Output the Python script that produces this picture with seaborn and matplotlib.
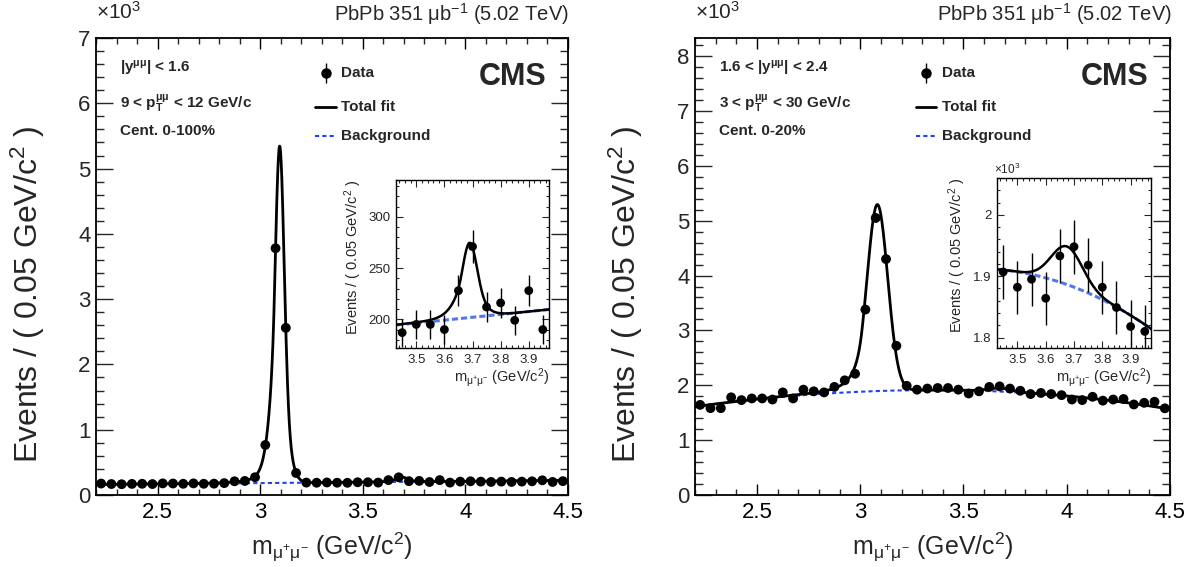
import numpy as np
import pandas as pd
import matplotlib
matplotlib.use("Agg")
import matplotlib.pyplot as plt
import seaborn as sns
from matplotlib.ticker import MultipleLocator, FuncFormatter

# ---------------- data ----------------
MASS_BINS = [2.225, 2.275, 2.325, 2.375, 2.425, 2.475, 2.525, 2.575, 2.625, 2.675,
             2.725, 2.775, 2.825, 2.875, 2.925, 2.975, 3.025, 3.075, 3.125, 3.175,
             3.225, 3.275, 3.325, 3.375, 3.425, 3.475, 3.525, 3.575, 3.625, 3.675,
             3.725, 3.775, 3.825, 3.875, 3.925, 3.975, 4.025, 4.075, 4.125, 4.175,
             4.225, 4.275, 4.325, 4.375, 4.425, 4.475]

LEFT_COUNTS = [175, 168, 165, 170, 172, 168, 178, 176, 172, 178,
               172, 174, 182, 210, 215, 272, 766, 3780, 2560, 337,
               190, 188, 192, 188, 187, 195, 195, 190, 228, 271,
               212, 216, 199, 228, 190, 205, 210, 205, 200, 205,
               200, 205, 210, 225, 200, 212]

RIGHT_COUNTS = [1643, 1583, 1583, 1780, 1730, 1760, 1760, 1740, 1870, 1760,
                1920, 1890, 1870, 1970, 2090, 2210, 3380, 5050, 4300, 2720,
                1990, 1920, 1940, 1950, 1950, 1920, 1850, 1890, 1970, 1980,
                1940, 1900, 1840, 1860, 1840, 1820, 1740, 1730, 1790, 1720,
                1740, 1750, 1650, 1680, 1700, 1580]

INSET_BINS = [3.45, 3.50, 3.55, 3.60, 3.65, 3.70, 3.75, 3.80, 3.85, 3.90, 3.95]
LEFT_INSET_COUNTS = [187, 195, 195, 190, 228, 271, 212, 216, 199, 228, 190]
RIGHT_INSET_COUNTS = [1907, 1882, 1895, 1864, 1933, 1948, 1918, 1882, 1849, 1818, 1810]

# fit model parameters
LEFT_BKG_POLY = [160.0, 28.0]            # a0 + a1*(m - 2.2)
LEFT_JPSI = dict(mean=3.095, sigma=0.0214, alpha=1.2, n=3.0, amp=4060.0,
                 wide_sigma=0.040, wide_amp=1100.0)
LEFT_PSI2S = dict(mean=3.690, sigma=0.0255, alpha=1.2, n=3.0, amp=57.0,
                  wide_sigma=0.0477, wide_amp=16.0)
RIGHT_BKG_POLY = [1912.0, -23.5, -248.3, -15.7]   # in powers of (m - 3.4)
RIGHT_JPSI = dict(mean=3.083, sigma=0.050, alpha=1.5, n=3.0, amp=3400.0,
                  wide_sigma=0.1, wide_amp=0.0)
RIGHT_PSI2S = dict(mean=3.675, sigma=0.055, alpha=5.0, n=3.0, amp=62.0,
                   wide_sigma=0.1, wide_amp=0.0)

X_TICKS = [2.5, 3.0, 3.5, 4.0, 4.5]
TOP_TEXT = "PbPb 351 \u03bcb$^{-1}$ (5.02 TeV)"
LEFT_LABELS = ["|y$^{\\mathbf{\u03bc\u03bc}}$| < 1.6",
               "9 < p$_{\\mathbf{T}}^{\\mathbf{\u03bc\u03bc}}$ < 12 GeV/c",
               "Cent. 0-100%"]
RIGHT_LABELS = ["1.6 < |y$^{\\mathbf{\u03bc\u03bc}}$| < 2.4",
                "3 < p$_{\\mathbf{T}}^{\\mathbf{\u03bc\u03bc}}$ < 30 GeV/c",
                "Cent. 0-20%"]


# ---------------- fit model ----------------
def crystal_ball(x, mean, sigma, alpha, n):
    t = (x - mean) / sigma
    a = (n / alpha) ** n * np.exp(-alpha ** 2 / 2)
    b = n / alpha - alpha
    tail = a * np.clip(b - t, 1e-9, None) ** (-n)
    return np.where(t > -alpha, np.exp(-t ** 2 / 2), tail)


def peak(x, p):
    core = p["amp"] * crystal_ball(x, p["mean"], p["sigma"], p["alpha"], p["n"])
    wide = p["wide_amp"] * np.exp(-(x - p["mean"]) ** 2 / (2 * p["wide_sigma"] ** 2))
    return core + wide


def left_bkg(x):
    return LEFT_BKG_POLY[0] + LEFT_BKG_POLY[1] * (x - 2.2)


def right_bkg(x):
    u = x - 3.4
    return sum(c * u ** i for i, c in enumerate(RIGHT_BKG_POLY))


def left_total(x):
    return left_bkg(x) + peak(x, LEFT_JPSI) + peak(x, LEFT_PSI2S)


def right_total(x):
    return right_bkg(x) + peak(x, RIGHT_JPSI) + peak(x, RIGHT_PSI2S)


# ---------------- style ----------------
sns.set_theme(style="ticks")
plt.rcParams["font.family"] = ["Liberation Sans", "DejaVu Sans"]
plt.rcParams["mathtext.fontset"] = "custom"
plt.rcParams["mathtext.rm"] = "Liberation Sans"
plt.rcParams["mathtext.it"] = "Liberation Sans:italic"
plt.rcParams["mathtext.bf"] = "Liberation Sans:bold"
plt.rcParams["axes.linewidth"] = 1.3
plt.rcParams["axes.edgecolor"] = "black"

BG_BLUE = "#2244ee"
INSET_BLUE = "#5577ee"

fig = plt.figure(figsize=(12.02, 5.67), dpi=100)

W, H = 1202.0, 567.0


def frac_axes(x0, y0, x1, y1):
    return [x0 / W, 1 - y1 / H, (x1 - x0) / W, (y1 - y0) / H]


ax_l = fig.add_axes(frac_axes(96, 38, 568, 495))
ax_r = fig.add_axes(frac_axes(695, 38, 1170, 495))
in_l = fig.add_axes(frac_axes(396, 180, 549, 348))
in_r = fig.add_axes(frac_axes(997, 178, 1151, 348))

kfmt = FuncFormatter(lambda v, p: f"{v / 1000:g}")


def draw_main(ax, counts, total, bkg, ymax, labels):
    grid = np.linspace(2.2, 4.5, 1500)
    bx = np.concatenate([[2.2], grid, [4.5]])
    by = np.concatenate([[0.0], bkg(grid), [0.0]])
    sns.lineplot(x=bx, y=by, ax=ax, color=BG_BLUE, lw=1.5, linestyle=(0, (2, 1.5)),
                 estimator=None, sort=False, zorder=2)
    sns.lineplot(x=grid, y=total(grid), ax=ax, color="black", lw=2.0,
                 estimator=None, sort=False, zorder=3)
    c = np.asarray(counts, dtype=float)
    ax.errorbar(MASS_BINS, c, yerr=np.sqrt(c), fmt="none", ecolor="black",
                elinewidth=1.0, zorder=4)
    sns.scatterplot(x=MASS_BINS, y=c, ax=ax, color="black", s=50,
                    edgecolor="none", zorder=5)
    ax.set_xlim(2.2, 4.5)
    ax.set_ylim(0, ymax)
    ax.xaxis.set_major_locator(plt.FixedLocator(X_TICKS))
    ax.xaxis.set_minor_locator(MultipleLocator(0.1))
    ax.xaxis.set_major_formatter(FuncFormatter(lambda v, p: f"{v:g}"))
    ax.yaxis.set_major_locator(MultipleLocator(1000))
    ax.yaxis.set_minor_locator(MultipleLocator(200))
    ax.yaxis.set_major_formatter(kfmt)
    ax.tick_params(axis="x", which="major", direction="in", length=8, width=1.0,
                   top=True, bottom=True, labelsize=16, pad=5, colors="black")
    ax.tick_params(axis="x", which="minor", direction="in", length=4, width=1.0,
                   top=True, bottom=True)
    ax.tick_params(axis="y", which="major", direction="in", length=12, width=1.0,
                   left=True, right=True, labelsize=16, pad=4)
    ax.tick_params(axis="y", which="minor", direction="in", length=6, width=1.0,
                   left=True, right=True)
    for sp in ax.spines.values():
        sp.set_visible(True)
        sp.set_color("black")
    ax.set_xlabel("")
    ax.set_ylabel("")
    ax.text(0.5, -0.115, "m$_{\\mathrm{\u03bc^{+}\u03bc^{-}}}$ (GeV/c$^{2}$)",
            transform=ax.transAxes, ha="center", va="center", fontsize=18)
    ax.text(-0.145, 0.44, "Events / ( 0.05 GeV/c$^{2}$ )", transform=ax.transAxes,
            rotation=90, ha="center", va="center", fontsize=23)
    ax.text(1.003, 1.052, TOP_TEXT, transform=ax.transAxes, ha="right",
            va="center", fontsize=14.5)
    ax.text(0.0, 1.058, "\u00d710$^{3}$", transform=ax.transAxes, ha="left",
            va="center", fontsize=15)
    ys = [0.934, 0.857, 0.797]
    for t, y in zip(labels, ys):
        ax.text(0.05, y, t, transform=ax.transAxes, ha="left", va="center",
                fontsize=11, fontweight="bold")
    # legend
    ax.errorbar([0.487], [0.923], yerr=[0.022], transform=ax.transAxes, fmt="o",
                color="black", ms=6.5, elinewidth=1.0, clip_on=False)
    ax.plot([0.465, 0.508], [0.849, 0.849], transform=ax.transAxes, color="black",
            lw=2.0)
    ax.plot([0.465, 0.508], [0.786, 0.786], transform=ax.transAxes, color=BG_BLUE,
            lw=1.5, linestyle=(0, (2, 1.5)))
    for t, y in zip(["Data", "Total fit", "Background"], [0.923, 0.849, 0.786]):
        ax.text(0.52, y, t, transform=ax.transAxes, ha="left", va="center",
                fontsize=11, fontweight="bold")
    ax.text(0.955, 0.915, "CMS", transform=ax.transAxes, ha="right", va="center",
            fontsize=22, fontweight="bold")


def draw_inset(ax, counts, total, bkg, ylim, ymajor, yminor, yfmt, offset_text,
               ylab_x):
    grid = np.linspace(3.40, 4.0, 600)
    sns.lineplot(x=grid, y=bkg(grid), ax=ax, color=INSET_BLUE, lw=2.2,
                 linestyle=(0, (2, 1)), estimator=None, sort=False, zorder=2)
    sns.lineplot(x=grid, y=total(grid), ax=ax, color="black", lw=1.8,
                 estimator=None, sort=False, zorder=3)
    c = np.asarray(counts, dtype=float)
    ax.errorbar(INSET_BINS, c, yerr=np.sqrt(c), fmt="none", ecolor="black",
                elinewidth=1.0, zorder=4)
    sns.scatterplot(x=INSET_BINS, y=c, ax=ax, color="black", s=40,
                    edgecolor="none", zorder=5)
    ax.set_xlim(3.428, 3.972)
    ax.set_ylim(*ylim)
    ax.xaxis.set_major_locator(MultipleLocator(0.1))
    ax.xaxis.set_minor_locator(MultipleLocator(0.02))
    ax.xaxis.set_major_formatter(FuncFormatter(lambda v, p: f"{v:.1f}"))
    ax.yaxis.set_major_locator(MultipleLocator(ymajor))
    ax.yaxis.set_minor_locator(MultipleLocator(yminor))
    ax.yaxis.set_major_formatter(yfmt)
    ax.tick_params(axis="both", which="major", direction="in", length=5, width=0.8,
                   top=True, right=True, labelsize=9.5, pad=4)
    ax.tick_params(axis="both", which="minor", direction="in", length=2.5, width=0.8,
                   top=True, right=True)
    for sp in ax.spines.values():
        sp.set_visible(True)
        sp.set_color("black")
        sp.set_linewidth(1.0)
    ax.set_xlabel("")
    ax.set_ylabel("")
    ax.text(1.0, -0.175, "m$_{\\mathrm{\u03bc^{+}\u03bc^{-}}}$ (GeV/c$^{2}$)",
            transform=ax.transAxes, ha="right", va="center", fontsize=10.5)
    ax.text(ylab_x, 1.0, "Events / ( 0.05 GeV/c$^{2}$ )", transform=ax.transAxes,
            rotation=90, ha="center", va="top", fontsize=10.5)
    if offset_text:
        ax.text(-0.02, 1.005, "\u00d710$^{3}$", transform=ax.transAxes, ha="left",
                va="bottom", fontsize=8.5)


draw_main(ax_l, LEFT_COUNTS, left_total, left_bkg, 7000, LEFT_LABELS)
draw_main(ax_r, RIGHT_COUNTS, right_total, right_bkg, 8330, RIGHT_LABELS)
draw_inset(in_l, LEFT_INSET_COUNTS, left_total, left_bkg, (172, 336), 50, 10,
           FuncFormatter(lambda v, p: f"{v:g}"), False, -0.28)
draw_inset(in_r, RIGHT_INSET_COUNTS, right_total, right_bkg, (1783, 2060), 100, 20,
           kfmt, True, -0.26)

fig.savefig("out.png", dpi=100)
